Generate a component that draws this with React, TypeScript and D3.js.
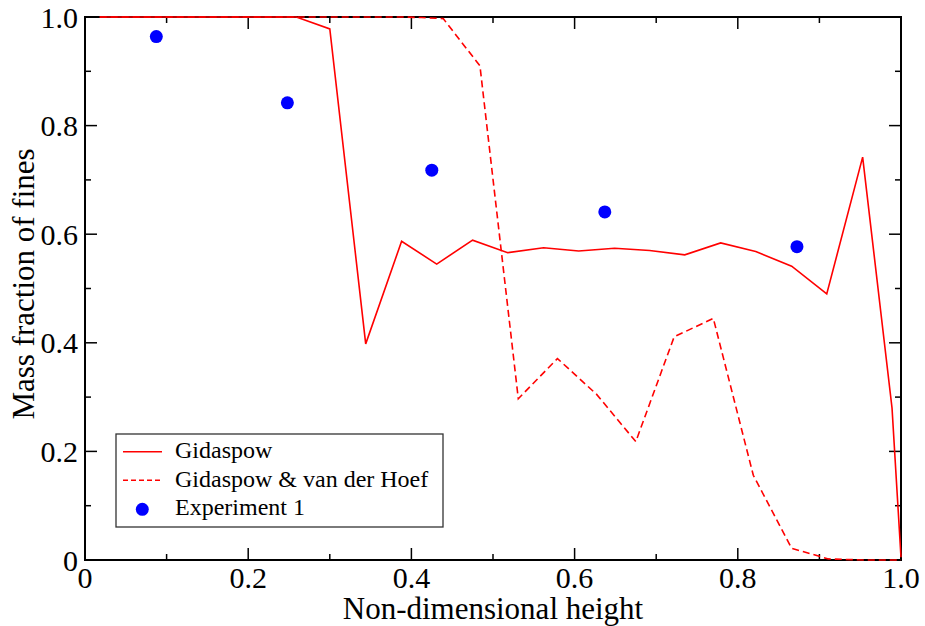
import React from "react";
import * as d3 from "d3";

const gidaspowX = [0.018, 0.039, 0.083, 0.126, 0.170, 0.213, 0.259, 0.300, 0.344, 0.388, 0.431, 0.475, 0.518, 0.562, 0.605, 0.649, 0.692, 0.735, 0.779, 0.822, 0.866, 0.909, 0.953, 0.989, 1.0];
const gidaspowY = [1, 1, 1, 1, 1, 1, 1, 0.978, 0.398, 0.587, 0.545, 0.589, 0.566, 0.575, 0.569, 0.574, 0.570, 0.562, 0.584, 0.568, 0.541, 0.490, 0.742, 0.28, 0.005];

const hoefX = [0.018, 0.057, 0.105, 0.152, 0.200, 0.248, 0.295, 0.343, 0.390, 0.4125, 0.439, 0.484, 0.531, 0.579, 0.627, 0.675, 0.722, 0.770, 0.819, 0.866, 0.911, 0.955, 1.0];
const hoefY = [1, 1, 1, 1, 1, 1, 1, 1, 1, 0.999, 0.997, 0.910, 0.297, 0.371, 0.305, 0.218, 0.411, 0.445, 0.156, 0.0215, 0.002, 0, 0];

const expX = [0.0874, 0.248, 0.425, 0.637, 0.8725];
const expY = [0.964, 0.842, 0.718, 0.641, 0.577];

const majorTicks = [0, 0.2, 0.4, 0.6, 0.8, 1.0];
const minorTicks = [0.1, 0.3, 0.5, 0.7, 0.9];
const xTickLabels = ["0", "0.2", "0.4", "0.6", "0.8", "1.0"];
const yTickLabels = ["0", "0.2", "0.4", "0.6", "0.8", "1.0"];

const legendLabels = ["Gidaspow", "Gidaspow & van der Hoef", "Experiment 1"];

const W = 925, H = 626;
const L = 85, R = 901, T = 17, B = 560;
const FONT = "Liberation Serif, DejaVu Serif, serif";

export default function App() {
  const x = d3.scaleLinear().domain([0, 1]).range([L, R]);
  const y = d3.scaleLinear().domain([0, 1]).range([B, T]);
  const line = d3.line<[number, number]>().x(d => x(d[0])).y(d => y(d[1]));
  const g1 = line(gidaspowX.map((v, i) => [v, gidaspowY[i]]) as [number, number][]) || "";
  const g2 = line(hoefX.map((v, i) => [v, hoefY[i]]) as [number, number][]) || "";
  const red = "#ff0000";
  const blue = "#0000ff";
  const major = 12, minor = 6;

  return (
    <svg width={W} height={H} style={{ position: "absolute", left: 0, top: 0, background: "#fff", fontFamily: FONT }}>
      <rect x={0} y={0} width={W} height={H} fill="#fff" />
      <g stroke="#000" strokeWidth={1.5}>
        {majorTicks.map((t, i) => (
          <g key={"M" + i}>
            <line x1={x(t)} x2={x(t)} y1={B} y2={B - major} />
            <line x1={x(t)} x2={x(t)} y1={T} y2={T + major} />
            <line x1={L} x2={L + major} y1={y(t)} y2={y(t)} />
            <line x1={R} x2={R - major} y1={y(t)} y2={y(t)} />
          </g>
        ))}
        {minorTicks.map((t, i) => (
          <g key={"m" + i}>
            <line x1={x(t)} x2={x(t)} y1={B} y2={B - minor} />
            <line x1={x(t)} x2={x(t)} y1={T} y2={T + minor} />
            <line x1={L} x2={L + minor} y1={y(t)} y2={y(t)} />
            <line x1={R} x2={R - minor} y1={y(t)} y2={y(t)} />
          </g>
        ))}
      </g>
      <rect x={L} y={T} width={R - L} height={B - T} fill="none" stroke="#000" strokeWidth={2} />
      <path d={g1} fill="none" stroke={red} strokeWidth={1.6} />
      <path d={g2} fill="none" stroke={red} strokeWidth={1.6} strokeDasharray="7,4" />
      {expX.map((v, i) => (
        <circle key={i} cx={x(v)} cy={y(expY[i])} r={6.5} fill={blue} />
      ))}
      <g fontSize={30} fill="#000">
        {majorTicks.map((t, i) => (
          <text key={"xl" + i} x={x(t)} y={588} textAnchor="middle">{xTickLabels[i]}</text>
        ))}
        {majorTicks.map((t, i) => (
          <text key={"yl" + i} x={78} y={y(t)} textAnchor="end" dominantBaseline="central">{yTickLabels[i]}</text>
        ))}
      </g>
      <text x={(L + R) / 2} y={619} fontSize={31} textAnchor="middle">Non-dimensional height</text>
      <text transform={`translate(34,284) rotate(-90)`} fontSize={31} textAnchor="middle">Mass fraction of fines</text>
      <rect x={116} y={434} width={327} height={93} fill="#fff" stroke="#333" strokeWidth={1.3} />
      <line x1={123} x2={162} y1={451.7} y2={451.7} stroke={red} strokeWidth={1.6} />
      <line x1={123} x2={162} y1={480.3} y2={480.3} stroke={red} strokeWidth={1.6} strokeDasharray="5,3" />
      <circle cx={142.3} cy={509.3} r={6.5} fill={blue} />
      <g fontSize={24} fill="#000">
        <text x={175} y={458}>{legendLabels[0]}</text>
        <text x={175} y={486.5}>{legendLabels[1]}</text>
        <text x={175} y={515}>{legendLabels[2]}</text>
      </g>
    </svg>
  );
}
